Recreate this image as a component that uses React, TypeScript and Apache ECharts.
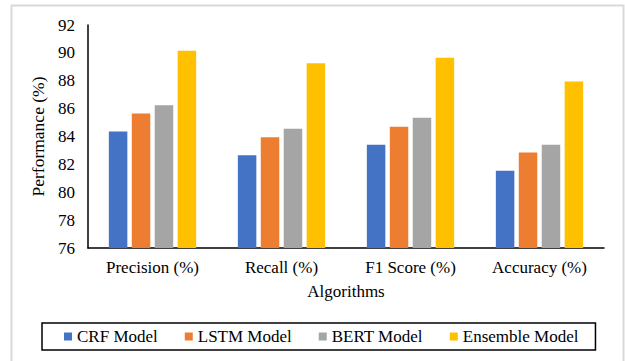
import React, { useEffect, useRef } from "react";
import * as echarts from "echarts";

// Metrics shown on the category axis
const categories = ["Precision (%)", "Recall (%)", "F1 Score (%)", "Accuracy (%)"];

// Scores per model, in the order of the categories above
const crfModel = [84.35, 82.65, 83.4, 81.55];
const lstmModel = [85.65, 83.95, 84.7, 82.85];
const bertModel = [86.25, 84.55, 85.35, 83.4];
const ensembleModel = [90.15, 89.25, 89.65, 87.95];

const seriesNames = ["CRF Model", "LSTM Model", "BERT Model", "Ensemble Model"];
const seriesColors = ["#4472C4", "#ED7D31", "#A5A5A5", "#FFC000"];

const FONT = "Liberation Serif";

export default function App() {
  const ref = useRef<HTMLDivElement>(null);

  useEffect(() => {
    document.body.style.margin = "0";
    if (!ref.current) return;
    const chart = echarts.init(ref.current, undefined, { renderer: "svg" });
    const data = [crfModel, lstmModel, bertModel, ensembleModel];

    chart.setOption({
      animation: false,
      backgroundColor: "#ffffff",
      textStyle: { fontFamily: FONT, color: "#000" },
      graphic: [
        {
          type: "rect",
          shape: { x: 11.5, y: 5.5, width: 612, height: 400 },
          style: { fill: "none", stroke: "#d9d9d9", lineWidth: 2 },
          silent: true,
        },
      ],
      grid: { left: 88, top: 25, right: 21, bottom: 113 },
      legend: {
        left: 42,
        top: 323,
        padding: [5, 17, 5, 22],
        itemGap: 27,
        itemWidth: 8,
        itemHeight: 8,
        icon: "rect",
        borderColor: "#000",
        borderWidth: 1.5,
        textStyle: { fontFamily: FONT, fontSize: 17, color: "#000" },
        data: seriesNames,
      },
      xAxis: {
        type: "category",
        data: categories,
        name: "Algorithms",
        nameLocation: "middle",
        nameGap: 35,
        nameTextStyle: { fontFamily: FONT, fontSize: 17, color: "#000" },
        axisLine: { lineStyle: { color: "#000", width: 1.5 } },
        axisTick: { show: false },
        axisLabel: { fontFamily: FONT, fontSize: 17, color: "#000", margin: 11 },
      },
      yAxis: {
        type: "value",
        min: 76,
        max: 92,
        interval: 2,
        name: "Performance (%)",
        nameLocation: "middle",
        nameGap: 30,
        nameTextStyle: { fontFamily: FONT, fontSize: 17.5, color: "#000" },
        axisLine: { show: true, lineStyle: { color: "#000", width: 1.5 } },
        axisTick: { show: false },
        splitLine: { show: false },
        axisLabel: { fontFamily: FONT, fontSize: 17, color: "#000", margin: 13 },
      },
      series: seriesNames.map((name, i) => ({
        name,
        type: "bar",
        data: data[i],
        barWidth: 18.5,
        barGap: "24%",
        itemStyle: { color: seriesColors[i] },
      })),
    });

    return () => chart.dispose();
  }, []);

  return <div ref={ref} style={{ width: 625, height: 361 }} />;
}
